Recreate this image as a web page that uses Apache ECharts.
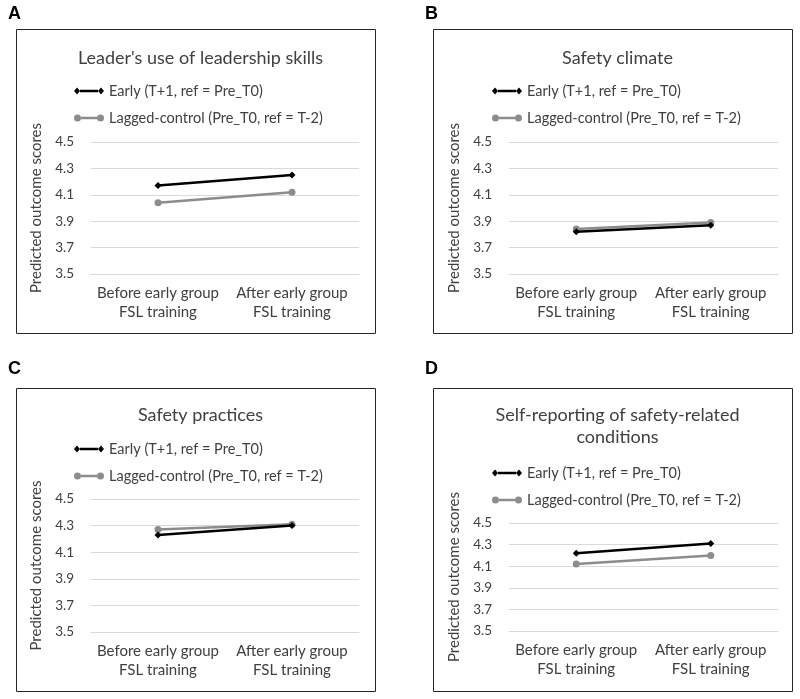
<!DOCTYPE html>
<html><head><meta charset="utf-8">
<script src="https://cdn.jsdelivr.net/npm/echarts@6/dist/echarts.min.js"></script>
<style>html,body{margin:0;padding:0;background:#fff}#c{width:800px;height:699px}</style>
</head><body><div id="c"></div>
<script>
const categories = ['Before early group\nFSL training', 'After early group\nFSL training'];
const panelLetters = ['A', 'B', 'C', 'D'];
const panelTitles = ["Leader's use of leadership skills", 'Safety climate', 'Safety practices', 'Self-reporting of safety-related\nconditions'];
const seriesNames = ['Early (T+1, ref = Pre_T0)', 'Lagged-control (Pre_T0, ref = T-2)'];
const yAxisName = 'Predicted outcome scores';
const yTicks = [3.5, 3.7, 3.9, 4.1, 4.3, 4.5];
const earlyA = [4.17, 4.25];
const laggedA = [4.04, 4.12];
const earlyB = [3.82, 3.87];
const laggedB = [3.84, 3.89];
const earlyC = [4.23, 4.30];
const laggedC = [4.27, 4.31];
const earlyD = [4.22, 4.31];
const laggedD = [4.12, 4.20];

const earlyData = [earlyA, earlyB, earlyC, earlyD];
const laggedData = [laggedA, laggedB, laggedC, laggedD];

const FONT = 'Lato, "Open Sans", sans-serif';
// layout
const boxes = [
  {x: 16, y: 29, w: 359, h: 304},
  {x: 433, y: 29, w: 359, h: 304},
  {x: 16, y: 388, w: 359, h: 303},
  {x: 433, y: 388, w: 359, h: 303}
];
const grids = [
  {left: 91, right: 441, top: 142, height: 132},
  {left: 509, right: 22, top: 142, height: 132},
  {left: 91, right: 441, top: 499, height: 133},
  {left: 509, right: 22, top: 523, height: 108}
];
const titleTops = [42, 42, 399, 399];
const legendPos = [{left: 69, top: 77}, {left: 487, top: 77}, {left: 69, top: 435}, {left: 487, top: 459}];
const letterPos = [{x: 8, y: 5}, {x: 425, y: 5}, {x: 8, y: 360}, {x: 425, y: 360}];

const diamondIcon = 'path://M0,3.5L3,0L6,3.5L3,7Z M6,2.3L24,2.3L24,4.7L6,4.7Z M24,3.5L27,0L30,3.5L27,7Z';
const circleIcon = 'path://M0,3.5A3.5,3.5,0,1,1,7,3.5A3.5,3.5,0,1,1,0,3.5Z M7,2.3L23,2.3L23,4.7L7,4.7Z M23,3.5A3.5,3.5,0,1,1,30,3.5A3.5,3.5,0,1,1,23,3.5Z';

const option = {
  animation: false,
  backgroundColor: '#fff',
  textStyle: {fontFamily: FONT},
  title: panelTitles.map((t, i) => ({
    text: t,
    left: boxes[i].x + boxes[i].w / 2,
    top: titleTops[i],
    textAlign: 'center',
    textStyle: {fontFamily: FONT, fontSize: 18, fontWeight: 'normal', color: '#404040', lineHeight: 22}
  })),
  legend: legendPos.map((p, i) => ({
    orient: 'vertical',
    left: p.left, top: p.top,
    itemWidth: 30, itemHeight: 7, itemGap: 9,
    textStyle: {fontFamily: FONT, fontSize: 14.5, color: '#404040', lineHeight: 18},
    selectedMode: false,
    data: [
      {name: seriesNames[0], icon: diamondIcon},
      {name: seriesNames[1], icon: circleIcon}
    ]
  })),
  grid: grids.map(g => Object.assign({containLabel: false}, g)),
  xAxis: grids.map((g, i) => ({
    type: 'category', gridIndex: i, data: categories, boundaryGap: true,
    axisLine: {show: true, lineStyle: {color: '#d9d9d9', width: 1}},
    axisTick: {show: false},
    axisLabel: {fontFamily: FONT, fontSize: 15, color: '#404040', lineHeight: 19, margin: 10, interval: 0}
  })),
  yAxis: grids.map((g, i) => ({
    type: 'value', gridIndex: i, min: 3.5, max: 4.5, interval: 0.1,
    name: yAxisName, nameLocation: 'middle', nameGap: 47,
    nameTextStyle: {fontFamily: FONT, fontSize: 15, color: '#404040'},
    axisLine: {show: false}, axisTick: {show: false},
    splitLine: {show: false},
    axisLabel: {
      fontFamily: FONT, fontSize: 13.5, color: '#404040', margin: 17,
      formatter: v => yTicks.some(t => Math.abs(t - v) < 1e-6) ? v.toFixed(1) : ''
    }
  })),
  series: [],
  graphic: []
};

for (let i = 0; i < 4; i++) {
  option.series.push({
    name: seriesNames[1], type: 'line', xAxisIndex: i, yAxisIndex: i, data: laggedData[i],
    symbol: 'circle', symbolSize: 7, color: '#8c8c8c',
    lineStyle: {width: 2.5, color: '#8c8c8c'}, itemStyle: {color: '#8c8c8c'},
    z: 3,
    markLine: {
      silent: true, symbol: ['none', 'none'], label: {show: false}, z: 1,
      lineStyle: {color: '#d9d9d9', width: 1, type: 'solid'},
      data: yTicks.map(t => ({yAxis: t}))
    }
  });
  option.series.push({
    name: seriesNames[0], type: 'line', xAxisIndex: i, yAxisIndex: i, data: earlyData[i],
    symbol: 'diamond', symbolSize: 7, color: '#000',
    lineStyle: {width: 2.5, color: '#000'}, itemStyle: {color: '#000'},
    z: 4
  });
  option.graphic.push({
    type: 'rect', silent: true,
    shape: {x: boxes[i].x + 0.5, y: boxes[i].y + 0.5, width: boxes[i].w, height: boxes[i].h},
    style: {fill: 'none', stroke: '#262626', lineWidth: 1}
  });
  option.graphic.push({
    type: 'text', silent: true, x: letterPos[i].x, y: letterPos[i].y,
    style: {text: panelLetters[i], font: 'bold 18px Arial, "Liberation Sans", sans-serif', fill: '#000'}
  });
}

const chart = echarts.init(document.getElementById('c'), null, {renderer: 'canvas'});
chart.setOption(option);
</script>
</body></html>
